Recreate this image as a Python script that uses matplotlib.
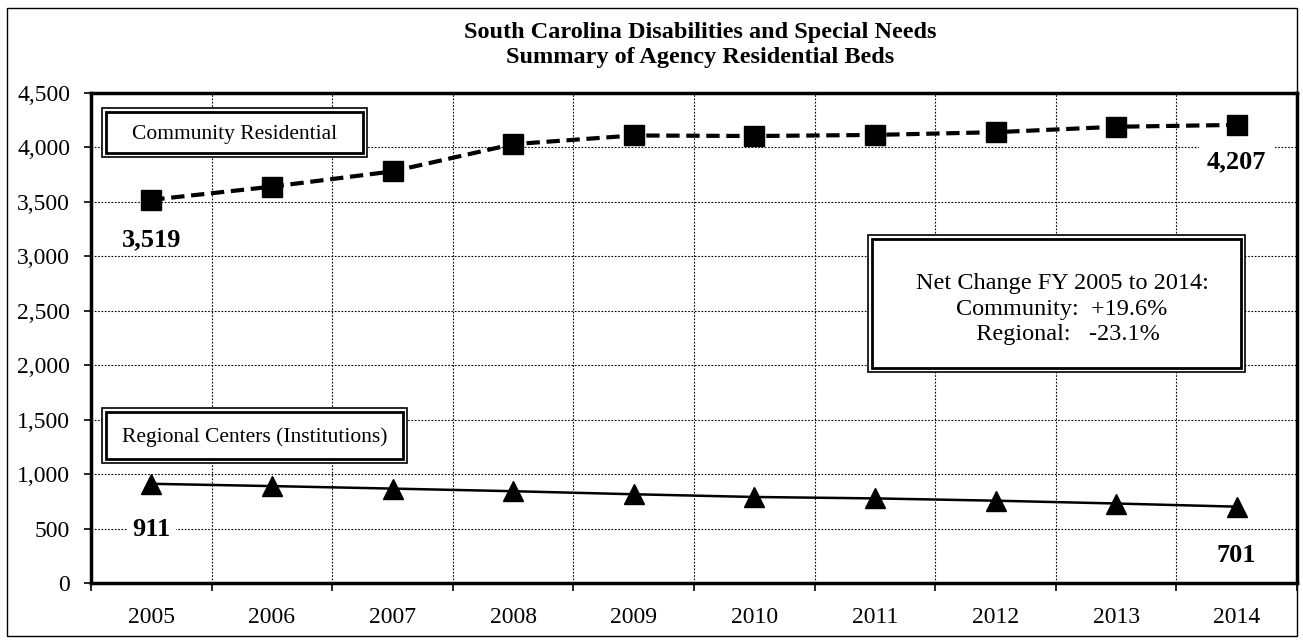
import matplotlib
matplotlib.use('Agg')
import matplotlib.pyplot as plt
from matplotlib.patches import Rectangle
from matplotlib.ticker import FuncFormatter, MultipleLocator

years = [2005, 2006, 2007, 2008, 2009, 2010, 2011, 2012, 2013, 2014]
community = [3519, 3640, 3780, 4030, 4110, 4105, 4115, 4140, 4190, 4207]
regional = [911, 890, 867, 843, 815, 790, 777, 756, 730, 701]

title = 'South Carolina Disabilities and Special Needs\nSummary of Agency Residential Beds'
note = 'Net Change FY 2005 to 2014:\nCommunity:  +19.6%\n  Regional:   -23.1%'

W, H = 1303, 642
plt.rcParams['font.family'] = ['Liberation Serif', 'DejaVu Serif']

fig = plt.figure(figsize=(W / 100, H / 100), dpi=100)
ax = fig.add_axes([91 / W, 1 - 583 / H, (1297 - 91) / W, (583 - 93) / H])

x = list(range(len(years)))
ax.plot(x, community, color='black', lw=3, ls=(0, (3.2, 1.6)),
        marker='s', ms=14, mfc='black', mec='black')
ax.plot(x, regional, color='black', lw=1.8,
        marker='^', ms=15, mfc='black', mec='black')

ax.set_xlim(-0.5, len(years) - 0.5)
ax.set_ylim(0, 4500)
ax.yaxis.set_major_locator(MultipleLocator(500))
ax.yaxis.set_major_formatter(FuncFormatter(lambda v, p: f'{int(v):,}'))

# gridlines at category boundaries, labels centred on categories
ax.set_xticks([i - 0.5 for i in range(len(years) + 1)])
ax.set_xticklabels([])
ax.set_xticks(x, minor=True)
ax.set_xticklabels([str(y) for y in years], minor=True, fontsize=17)
ax.tick_params(axis='x', which='major', length=6, width=1.2, direction='out')
ax.tick_params(axis='x', which='minor', length=0, pad=17)
ax.tick_params(axis='y', length=5, width=1.2, labelsize=17, pad=10)
ax.grid(True, which='major', color='black', ls=(0, (1.5, 1.5)), lw=0.8)
ax.set_axisbelow(True)
for s in ax.spines.values():
    s.set_linewidth(2.5)

# end labels
ax.text(x[0], 3150, f'{community[0]:,}', ha='center', va='center', fontsize=19, fontweight='bold')
ax.text(x[-1], 3870, f'{community[-1]:,}', ha='center', va='center', fontsize=19, fontweight='bold',
        bbox=dict(fc='white', ec='none', pad=6))
ax.text(x[0], 487, f'{regional[0]:,}', ha='center', va='center', fontsize=19, fontweight='bold',
        bbox=dict(fc='white', ec='none', pad=4))
ax.text(x[-1], 257, f'{regional[-1]:,}', ha='center', va='center', fontsize=19, fontweight='bold',
        bbox=dict(fc='white', ec='none', pad=4))

fig.text(700 / W, 1 - 45 / H, title, ha='center', va='center', fontsize=17.5,
         fontweight='bold', linespacing=1.25)


def double_box(x0, y0, x1, y1):
    # pixel coords, y from top
    fig.add_artist(Rectangle((x0 / W, 1 - y1 / H), (x1 - x0) / W, (y1 - y0) / H,
                             transform=fig.transFigure, fc='white', ec='black', lw=1.2, zorder=5))
    fig.add_artist(Rectangle(((x0 + 4) / W, 1 - (y1 - 4) / H), (x1 - x0 - 8) / W, (y1 - y0 - 8) / H,
                             transform=fig.transFigure, fc='white', ec='black', lw=2, zorder=5))


double_box(102, 108, 367, 157)
fig.text(235 / W, 1 - 134 / H, 'Community Residential', ha='center', va='center',
         fontsize=15.5, zorder=6)
double_box(102, 408, 407, 463)
fig.text(255 / W, 1 - 437 / H, 'Regional Centers (Institutions)', ha='center', va='center',
         fontsize=15.5, zorder=6)
double_box(868, 235, 1245, 372)
fig.text(1062 / W, 1 - 309 / H, note, ha='center', va='center', fontsize=17.5,
         linespacing=1.3, zorder=6)

# outer frame
fig.add_artist(Rectangle((7 / W, 1 - 636 / H), (1297 - 7) / W, (636 - 8) / H,
                         transform=fig.transFigure, fill=False, ec='black', lw=1))

fig.savefig('out.png', dpi=100)
